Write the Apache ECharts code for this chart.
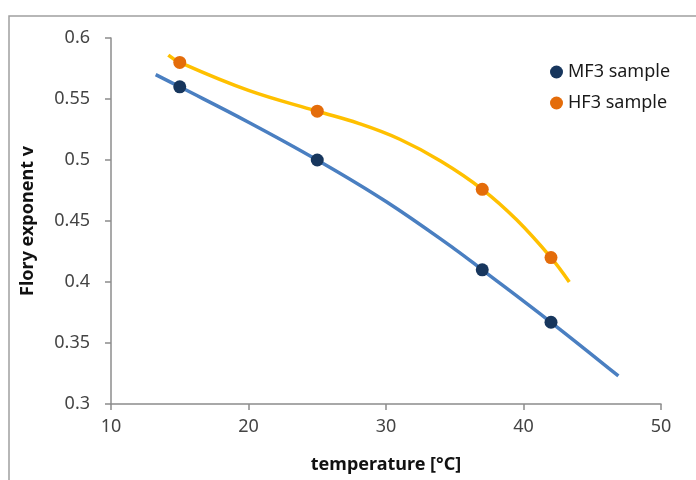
<!DOCTYPE html>
<html>
<head>
<meta charset="utf-8">
<script src="https://cdn.jsdelivr.net/npm/echarts@6/dist/echarts.min.js"></script>
<style>
html,body{margin:0;padding:0;background:#fff;}
#chart{width:696px;height:480px;}
</style>
</head>
<body>
<div id="chart"></div>
<script>
// Measured points
var mf3Temp = [15, 25, 37, 42];
var mf3Nu = [0.56, 0.50, 0.41, 0.367];
var hf3Temp = [15, 25, 37, 42];
var hf3Nu = [0.58, 0.54, 0.476, 0.42];
// Trend lines
var mf3TrendTemp = [13.25, 15, 20, 25, 30, 35, 37, 42, 46.9];
var mf3TrendNu = [0.570, 0.560, 0.531, 0.500, 0.466, 0.427, 0.410, 0.367, 0.323];
var hf3TrendTemp = [14.17, 15, 20, 25, 28, 31, 34, 37, 39.5, 42, 43.33];
var hf3TrendNu = [0.586, 0.580, 0.557, 0.540, 0.530, 0.517, 0.499, 0.476, 0.451, 0.420, 0.400];
var xTicks = [10, 20, 30, 40, 50];
var yTicks = [0.3, 0.35, 0.4, 0.45, 0.5, 0.55, 0.6];
var seriesNames = ['MF3 sample', 'HF3 sample'];
var xTitle = 'temperature [°C]';
var yTitle = 'Flory exponent v';

function pairs(xs, ys) { return xs.map(function (x, i) { return [x, ys[i]]; }); }

var font = 'Noto Sans, sans-serif';
var axisColor = '#8c8c8c';
var chart = echarts.init(document.getElementById('chart'));
chart.setOption({
  animation: false,
  backgroundColor: '#fff',
  graphic: [
    { type: 'polyline', shape: { points: [[9, 480], [9, 16], [696, 16]] },
      style: { stroke: '#a0a0a0', lineWidth: 1.5, fill: null }, silent: true }
  ],
  grid: { left: 111, right: 35, top: 38, bottom: 76, containLabel: false },
  legend: {
    orient: 'vertical', left: 545, top: 58, itemGap: 13,
    icon: 'circle', itemWidth: 13, itemHeight: 13,
    textStyle: { fontFamily: font, fontSize: 18, color: '#1a1a1a' },
    data: seriesNames
  },
  xAxis: {
    type: 'value', min: xTicks[0], max: xTicks[xTicks.length - 1], interval: 10,
    name: xTitle, nameLocation: 'middle', nameGap: 52,
    nameTextStyle: { fontFamily: font, fontSize: 18, fontWeight: 'bold', color: '#111' },
    axisLine: { show: true, lineStyle: { color: axisColor, width: 1.5 } },
    axisTick: { show: true, length: 6, lineStyle: { color: axisColor, width: 1.5 } },
    axisLabel: { margin: 14, fontFamily: font, fontSize: 18, color: '#444' },
    splitLine: { show: false }
  },
  yAxis: {
    type: 'value', min: yTicks[0], max: yTicks[yTicks.length - 1], interval: 0.05,
    name: yTitle, nameLocation: 'middle', nameGap: 74, nameRotate: 90,
    nameTextStyle: { fontFamily: font, fontSize: 18, fontWeight: 'bold', color: '#111' },
    axisLine: { show: true, lineStyle: { color: axisColor, width: 1.5 } },
    axisTick: { show: true, length: 6, lineStyle: { color: axisColor, width: 1.5 } },
    axisLabel: { margin: 21, fontFamily: font, fontSize: 18, color: '#444',
      formatter: function (v) { return String(Math.round(v * 100) / 100); } },
    splitLine: { show: false }
  },
  series: [
    { name: 'MF3 trend', type: 'line', smooth: 0.4, symbol: 'none', z: 1,
      lineStyle: { color: '#4a7fc1', width: 3.5 }, data: pairs(mf3TrendTemp, mf3TrendNu) },
    { name: 'HF3 trend', type: 'line', smooth: 0.4, symbol: 'none', z: 1,
      lineStyle: { color: '#ffc000', width: 3.5 }, data: pairs(hf3TrendTemp, hf3TrendNu) },
    { name: seriesNames[0], type: 'scatter', symbol: 'circle', symbolSize: 13, z: 3,
      itemStyle: { color: '#17365d', opacity: 1 }, data: pairs(mf3Temp, mf3Nu) },
    { name: seriesNames[1], type: 'scatter', symbol: 'circle', symbolSize: 13, z: 3,
      itemStyle: { color: '#e46c0a', opacity: 1 }, data: pairs(hf3Temp, hf3Nu) }
  ]
});
</script>
</body>
</html>
